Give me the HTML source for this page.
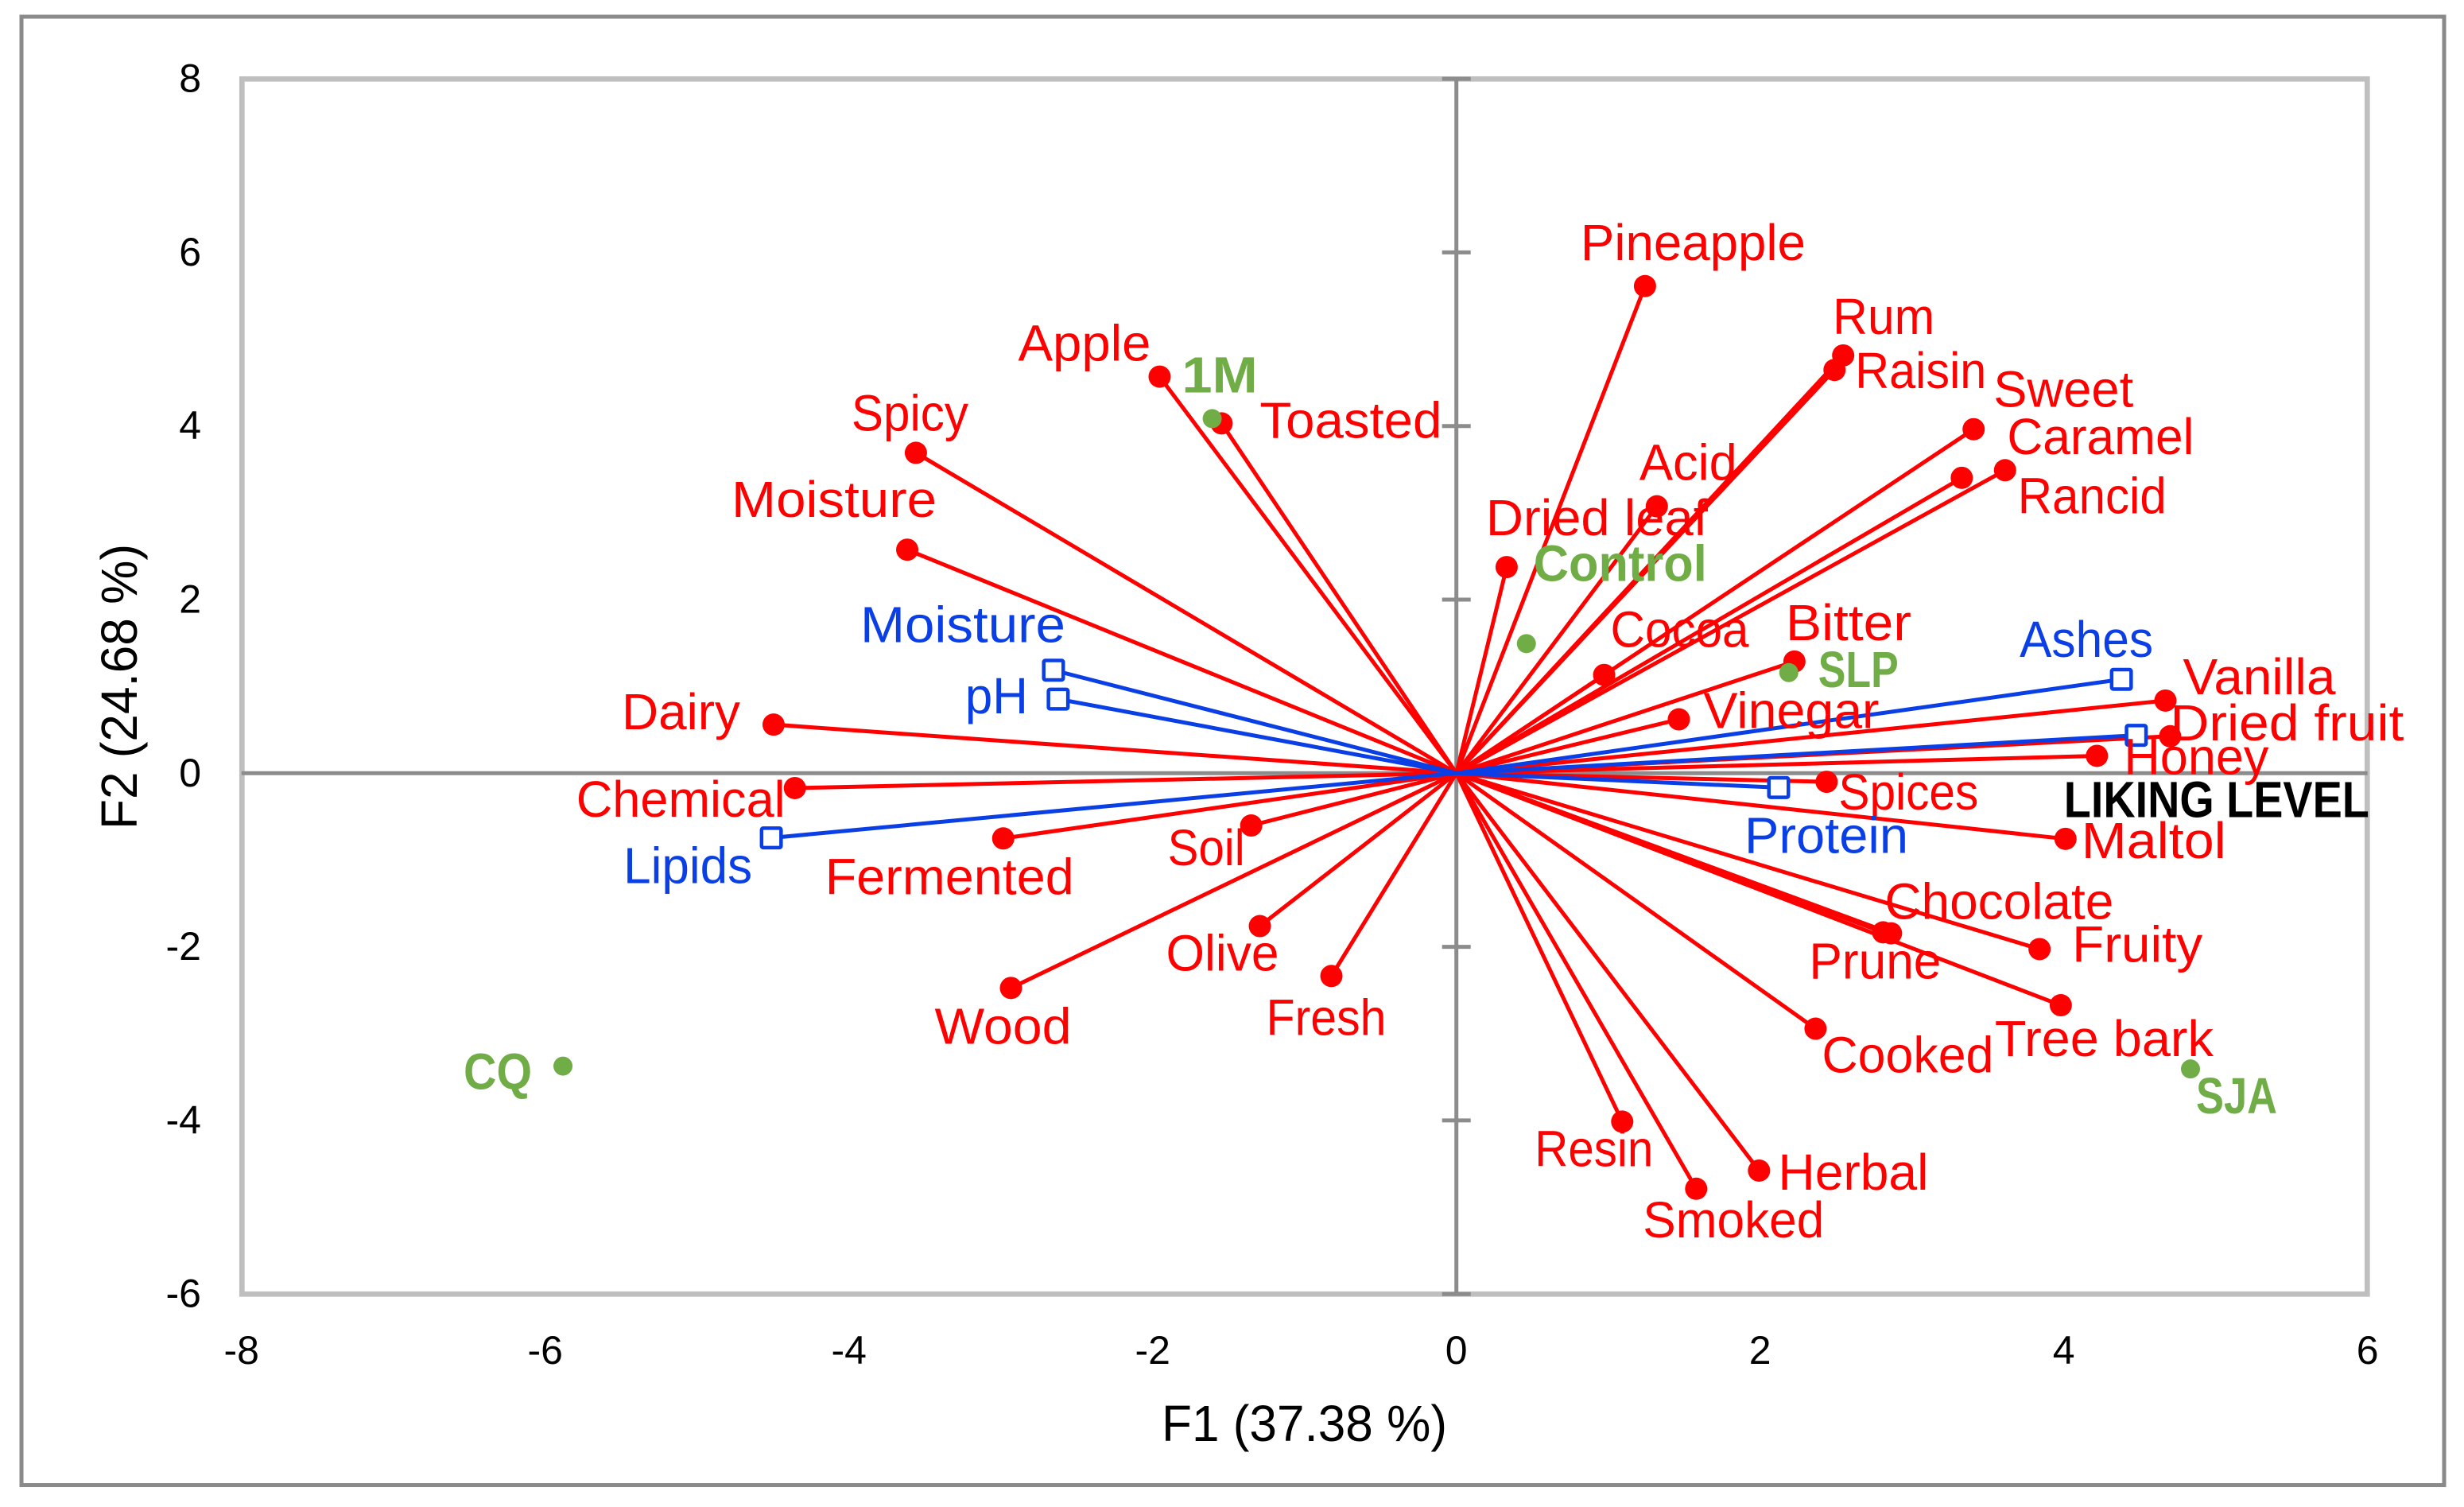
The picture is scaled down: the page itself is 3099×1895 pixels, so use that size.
<!DOCTYPE html>
<html lang="en">
<head>
<meta charset="utf-8">
<title>PCA biplot F1 vs F2</title>
<style>
html,body{margin:0;padding:0;background:#fff;}
svg{display:block;}
text{font-family:"Liberation Sans",sans-serif;}
</style>
</head>
<body>
<svg id="chart" xmlns="http://www.w3.org/2000/svg" width="3099" height="1895" viewBox="0 0 3099 1895">
  <rect x="0" y="0" width="3099" height="1895" fill="#ffffff"/>
  <rect x="27" y="21" width="3047" height="1846.5" fill="none" stroke="#8a8a8a" stroke-width="5"/>
  <rect x="304.3" y="99.3" width="2673" height="1528" fill="none" stroke="#bfbfbf" stroke-width="6.7"/>
  <g id="axes"></g>
  <g id="redLines"></g>
  <g id="blueLines"></g>
  <g id="markers"></g>
  <g id="labels"></g>
  <text x="1461" y="1812" font-size="64" fill="#000" textLength="359" lengthAdjust="spacingAndGlyphs">F1 (37.38 %)</text>
  <text transform="translate(172,1043) rotate(-90)" x="0" y="0" font-size="64" fill="#000" textLength="359" lengthAdjust="spacingAndGlyphs">F2 (24.68 %)</text>
</svg>
<script>
// Tick labels
const xTicks = [-8, -6, -4, -2, 0, 2, 4, 6];
const yTicks = [8, 6, 4, 2, 0, -2, -4, -6];

// Sensory attributes (red vectors)
const sensoryNames = ["Apple","Spicy","Moisture","Dairy","Toasted","Pineapple","Rum","Raisin","Sweet","Caramel","Rancid","Acid","Dried leaf","Cocoa","Bitter","Vinegar","Vanilla","Dried fruit","Honey","Spices","Maltol","Fruity","Chocolate","Prune","Tree bark","Cooked","Resin","Herbal","Smoked","Fresh","Olive","Soil","Chemical","Fermented","Wood"];
const sensoryF1 = [-1.954,-3.559,-3.616,-4.496,-1.546,1.242,2.547,2.49,3.406,3.328,3.613,1.32,0.331,0.973,2.226,1.465,4.669,4.70,4.218,2.438,4.011,3.84,2.862,2.81,3.98,2.365,1.092,1.993,1.579,-0.823,-1.294,-1.351,-4.356,-2.984,-2.933];
const sensoryF2 = [4.569,3.691,2.575,0.56,4.03,5.612,4.813,4.646,3.963,3.403,3.491,3.075,2.375,1.132,1.287,0.621,0.837,0.426,0.2,-0.099,-0.756,-2.026,-1.844,-1.833,-2.673,-2.943,-4.014,-4.578,-4.787,-2.336,-1.761,-0.602,-0.171,-0.751,-2.474];

// Physicochemical variables (blue vectors)
const chemNames = ["Moisture","pH","Lipids","Ashes","Protein","LIKING LEVEL"];
const chemF1 = [-2.653,-2.622,-4.511,4.379,2.122,4.477];
const chemF2 = [1.187,0.854,-0.745,1.082,-0.166,0.437];

// Samples (green points)
const sampleNames = ["1M","Control","SLP","CQ","SJA"];
const sampleF1 = [-1.608,0.461,2.189,-5.883,4.834];
const sampleF2 = [4.085,1.493,1.159,-3.374,-3.407];

// Label placement relative to each mark: [dx, baseline dy, text width]
const sensoryLabelLayout = [[-176,-20,163],[-79,-28,143],[-219,-41,254],[-189,6,145],[50,18,225],[-79,-33,279],[-11,-27,124],[28,23,161],[27,-28,172],[59,-30,231],[18,54,183],[-20,-33,119],[-24,-40,275],[10,-35,170],[-9,-27,154],[33,11,217],[24,-8,188],[2,5,290],[36,23,178],[17,35,172],[22,24,178],[43,16,160],[-6,-18,284],[-91,58,162],[-81,64,271],[10,55,212],[-108,56,145],[26,24,185],[-65,61,224],[-80,74,147],[-116,56,138],[-103,50,93],[-273,36,259],[-222,70,309],[-94,70,168]];
const chemLabelLayout = [[-241,-35,254],[-115,18,75],[-184,57,158],[-126,-28,164],[-41,82,202],[-89,103,380]];
const sampleLabelLayout = [[-36,-33,91],[11,-79,214],[39,18,97],[-123,29,82],[9,56,98]];

const SVGNS = "http://www.w3.org/2000/svg";
const RED = "#ff0000", BLUE = "#0a3fe6", GREEN = "#70ad47", AXIS = "#8c8c8c";
const FONT_SIZE = 64;
const BEARING = 2;

function xScale(v){ return 1831.7 + 191 * v; }
function yScale(v){ return 972.3 - 109.15 * v; }
function slug(s){ return s.toLowerCase().replace(/\s+/g,'-'); }
function make(tag, attrs, parent){
  const el = document.createElementNS(SVGNS, tag);
  for (const k in attrs) el.setAttribute(k, attrs[k]);
  parent.appendChild(el);
  return el;
}

const axesG = document.getElementById('axes');
const blueG = document.getElementById('blueLines');
const redG = document.getElementById('redLines');
const markG = document.getElementById('markers');
const labelG = document.getElementById('labels');

// axes
const hAxis = make('line', {x1:xScale(-8), x2:xScale(6), y1:yScale(0), y2:yScale(0), stroke:AXIS, 'stroke-width':5}, axesG);


const vAxis = make('line', {x1:xScale(0), x2:xScale(0), y1:yScale(8), y2:yScale(-6), stroke:AXIS, 'stroke-width':5}, axesG);



yTicks.forEach(function(t){
  if (t !== 0) {
    const m = make('line', {x1:xScale(0)-18, x2:xScale(0)+18, y1:yScale(t), y2:yScale(t), stroke:AXIS, 'stroke-width':5}, axesG);
    
    
  }
  const l = make('text', {x:253, y:yScale(t)+16.5, 'text-anchor':'end', 'font-size':50, fill:'#000'}, axesG);
  l.textContent = String(t);
  
  
});
xTicks.forEach(function(t){
  const l = make('text', {x:xScale(t), y:1715, 'text-anchor':'middle', 'font-size':50, fill:'#000'}, axesG);
  l.textContent = String(t);
  
  
});

function addLabel(text, px, py, layout, color, bold, prefix){
  const t = make('text', {x:px+layout[0]-BEARING, y:py+layout[1], 'font-size':FONT_SIZE, fill:color, textLength:layout[2]+2*BEARING, lengthAdjust:'spacingAndGlyphs'}, labelG);
  if (bold) t.setAttribute('font-weight', 'bold');
  t.textContent = text;
  
  
}

// red vectors
sensoryNames.forEach(function(name, i){
  const px = xScale(sensoryF1[i]), py = yScale(sensoryF2[i]);
  const ln = make('line', {x1:xScale(0), y1:yScale(0), x2:px, y2:py, stroke:RED, 'stroke-width':5}, redG);
  
  
  const c = make('circle', {cx:px, cy:py, r:14, fill:RED}, markG);
  
  
  addLabel(name, px, py, sensoryLabelLayout[i], RED, false, 'sensory');
});

// blue vectors
chemNames.forEach(function(name, i){
  const px = xScale(chemF1[i]), py = yScale(chemF2[i]);
  const ln = make('line', {x1:xScale(0), y1:yScale(0), x2:px, y2:py, stroke:BLUE, 'stroke-width':5}, blueG);
  
  
  const s = make('rect', {x:px-12.25, y:py-12.25, width:24.5, height:24.5, rx:2, fill:'#ffffff', stroke:BLUE, 'stroke-width':4.5}, markG);
  
  
  addLabel(name, px, py, chemLabelLayout[i], name === 'LIKING LEVEL' ? '#000000' : BLUE, name === 'LIKING LEVEL', 'chem');
});

// green samples
sampleNames.forEach(function(name, i){
  const px = xScale(sampleF1[i]), py = yScale(sampleF2[i]);
  const c = make('circle', {cx:px, cy:py, r:12, fill:GREEN}, markG);
  
  
  addLabel(name, px, py, sampleLabelLayout[i], GREEN, true, 'sample');
});
</script>
</body>
</html>
